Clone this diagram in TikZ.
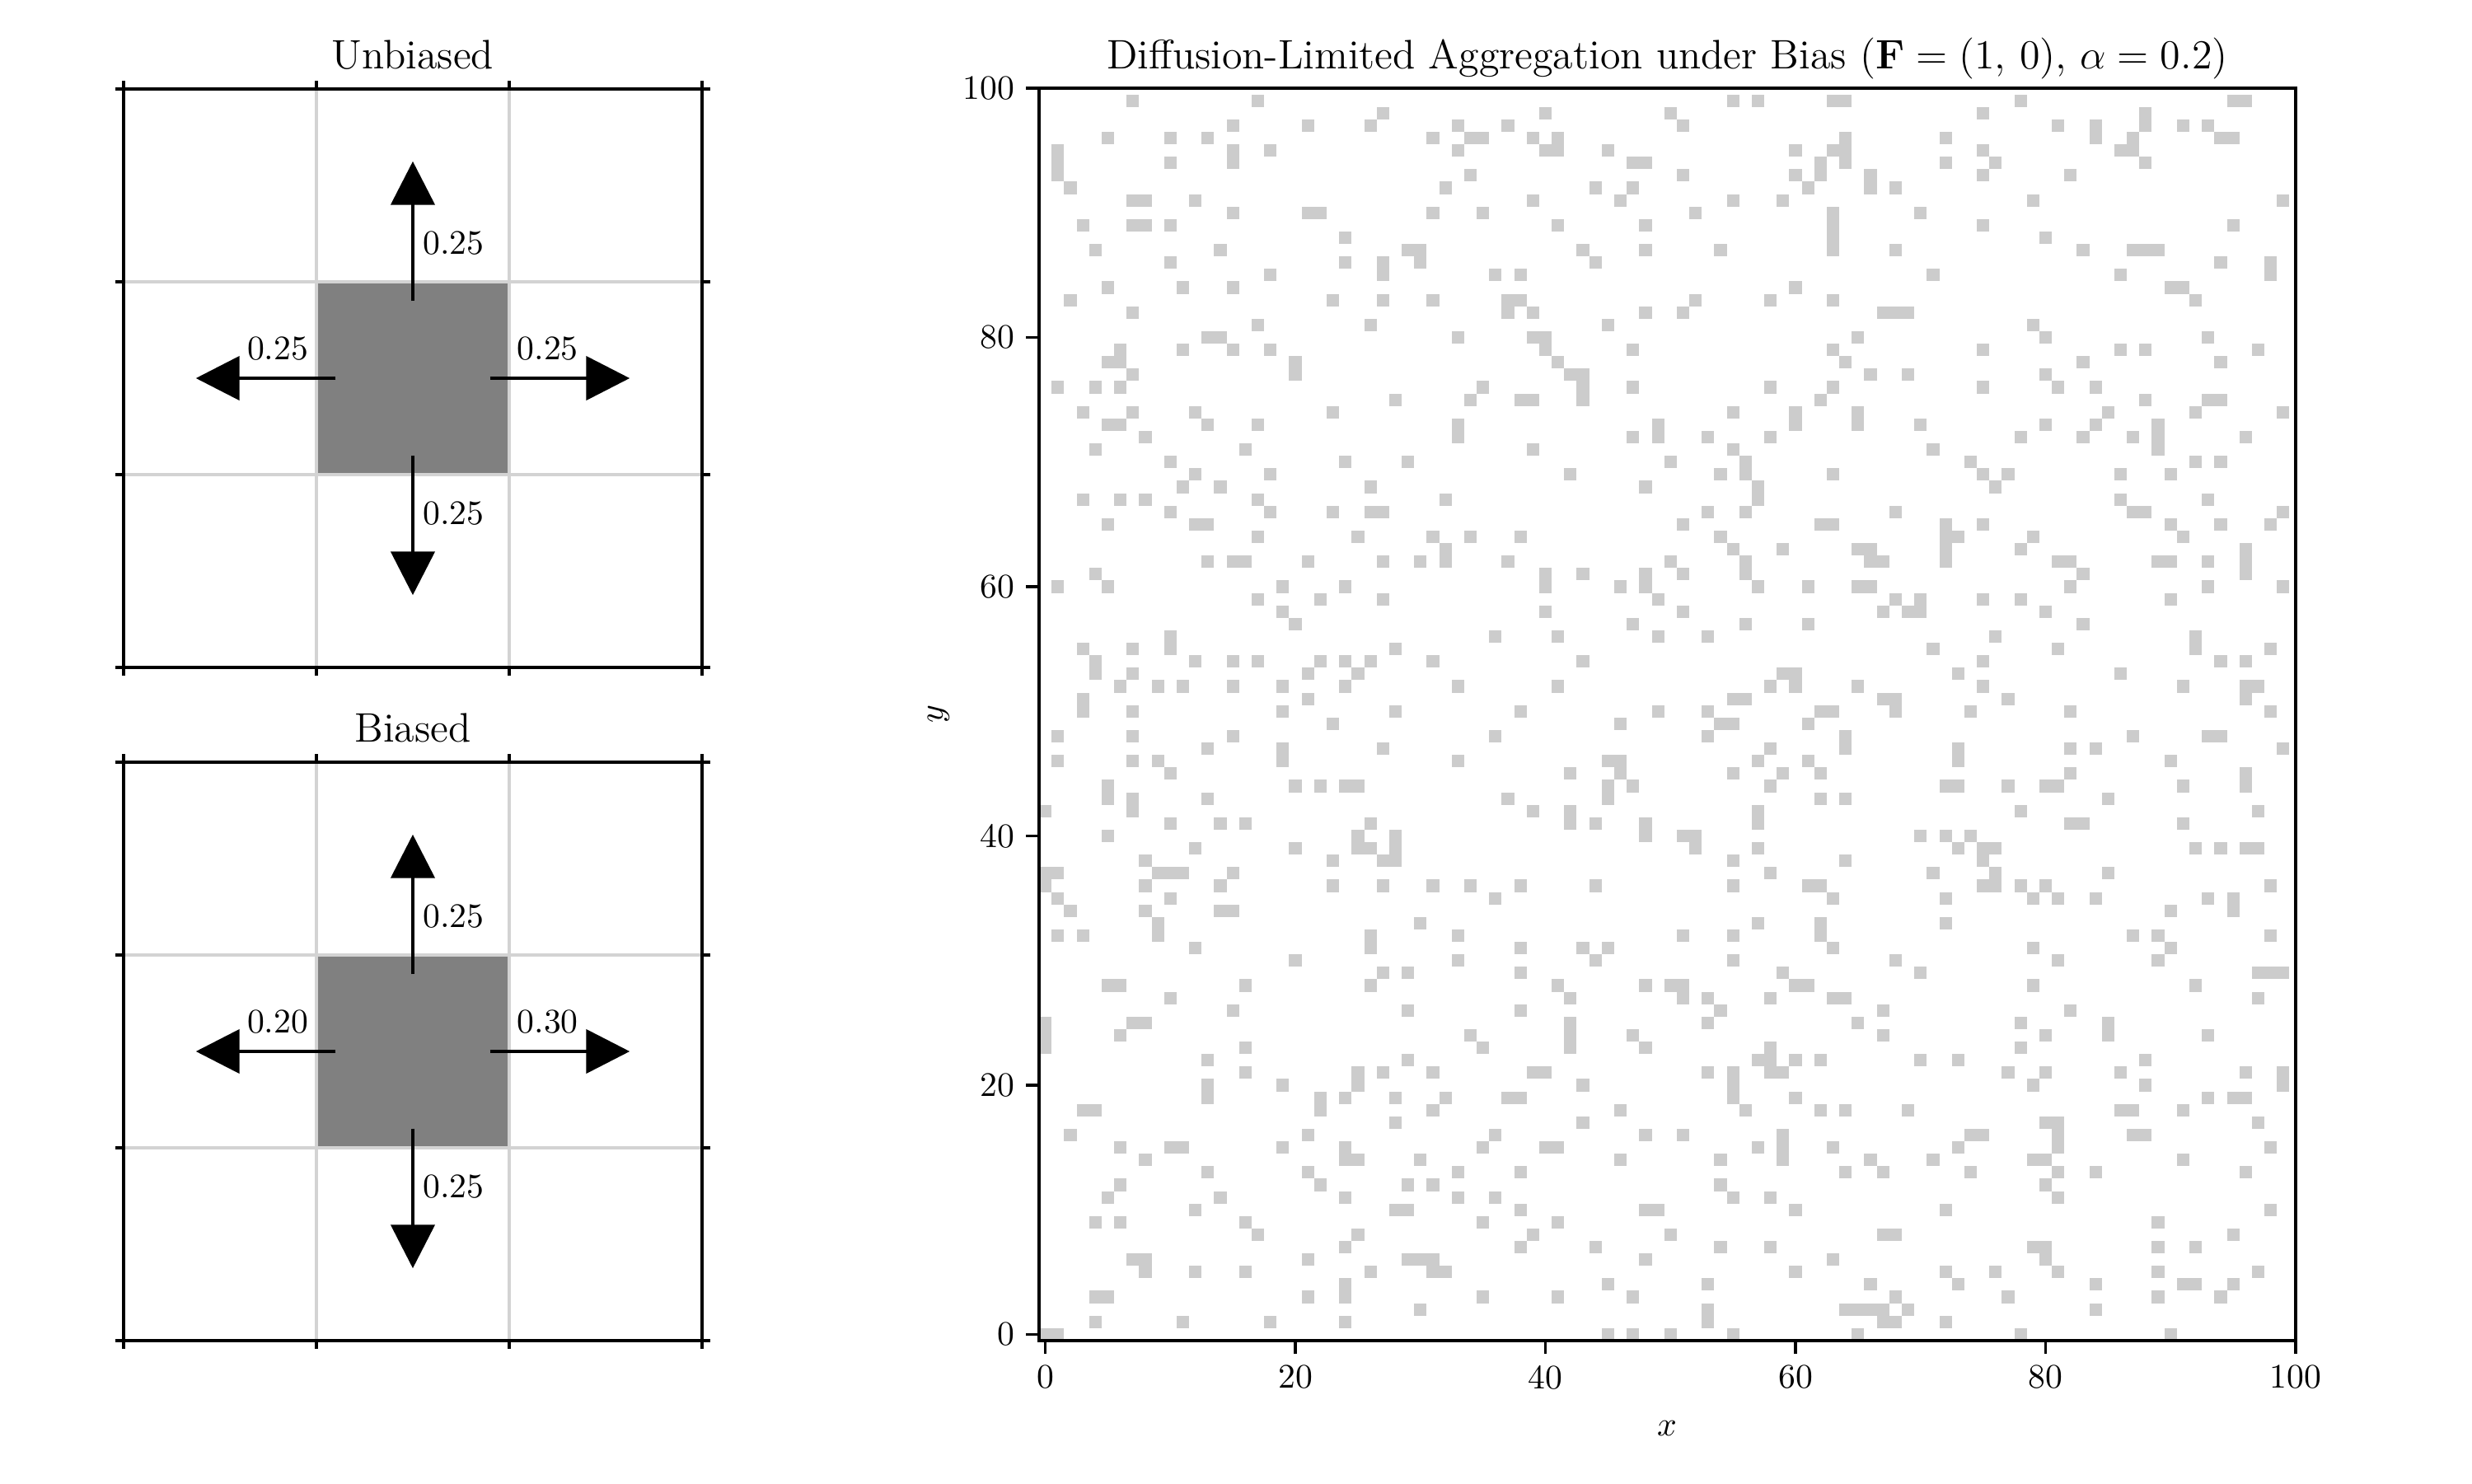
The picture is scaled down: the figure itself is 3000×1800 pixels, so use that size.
\documentclass[tikz,border=0pt]{standalone}
\usetikzlibrary{arrows.meta}
\definecolor{cellc}{HTML}{CCCCCC}
\definecolor{gridc}{HTML}{D3D3D3}
\definecolor{centerc}{HTML}{808080}
\begin{document}
\begin{tikzpicture}[x=0.24pt,y=-0.24pt,
  frame/.style={line width=0.8pt, line cap=rect},
  ticklab/.style={font=\fontsize{10}{12}\selectfont, inner sep=0pt},
  ttl/.style={font=\fontsize{12}{14}\selectfont, inner sep=0pt, anchor=base},
  problab/.style={font=\fontsize{10}{12}\selectfont, inner sep=0pt},
  arr/.style={line width=1.15pt, -{Triangle[length=12.7pt,width=12.7pt]}},
  gridln/.style={gridc, line width=0.8pt},
]
\useasboundingbox[fill=white] (0,0) rectangle (3000,1800);

% ---------- left panels ----------
\foreach \cy/\nm/\tt/\ll/\rl in {-110.16/U/Unbiased/0.25/0.25, -306.24/B/Biased/0.20/0.30}{
\begin{scope}[shift={(120.24pt,\cy pt)}, x=56.16pt, y=56.16pt]
  \fill[centerc] (-0.5,-0.5) rectangle (0.5,0.5);
  \draw[gridln] (-0.5,-1.5) -- (-0.5,1.5) (0.5,-1.5) -- (0.5,1.5)
                (-1.5,-0.5) -- (1.5,-0.5) (-1.5,0.5) -- (1.5,0.5);
  \draw[frame] (-1.5,-1.5) rectangle (1.5,1.5);
  \foreach \t in {-1.5,-0.5,0.5,1.5}{
    \draw[frame] (\t,-1.5) -- ++(0,-2pt);
    \draw[frame] (\t,1.5) -- ++(0,2pt);
    \draw[frame] (-1.5,\t) -- ++(-2pt,0);
    \draw[frame] (1.5,\t) -- ++(2pt,0);
  }
  \coordinate (us\nm) at (0,0.4);   \coordinate (ue\nm) at (0,1.125);
  \coordinate (ds\nm) at (0,-0.4);  \coordinate (de\nm) at (0,-1.125);
  \coordinate (ls\nm) at (-0.4,0);  \coordinate (le\nm) at (-1.125,0);
  \coordinate (rs\nm) at (0.4,0);   \coordinate (re\nm) at (1.125,0);
  \draw[arr] (us\nm) -- (ue\nm);
  \draw[arr] (ds\nm) -- (de\nm);
  \draw[arr] (ls\nm) -- (le\nm);
  \draw[arr] (rs\nm) -- (re\nm);
  \node[problab, anchor=west] (pu\nm) at (0.05,0.7) {0.25};
  \node[problab, anchor=west] (pd\nm) at (0.05,-0.7) {0.25};
  \node[problab, anchor=base] (pl\nm) at (-0.7,0.095) {\ll};
  \node[problab, anchor=base] (pr\nm) at (0.7,0.095) {\rl};
  \path (0,1.5) ++(0,6pt) node[ttl] (t\nm) {\tt};
\end{scope}
}

% ---------- right plot ----------
\begin{scope}[shift={(302.64pt,-390.48pt)}, x=3.6418pt, y=3.6299pt]
  \pgfmathsetseed{20240}
  \foreach \i in {0,...,99}{
    \foreach \j in {0,...,99}{
      \pgfmathrandominteger{\rv}{1}{1000}
      \ifnum\rv<91 \fill[cellc] (\i,\j) rectangle ++(1,1);\fi
    }
  }
  \draw[frame] (0,0) rectangle (100.5,100.5);
  \foreach \t in {0,20,...,100}{
    \draw[frame] (\t+0.5,0) -- ++(0,-3.5pt);
    \path (\t+0.5,0) ++(0,-7pt) node[ticklab, anchor=north] (xt\t) {\t};
    \draw[frame] (0,\t+0.5) -- ++(-3.5pt,0);
    \path (0,\t+0.5) ++(-7pt,0) node[ticklab, anchor=east] (yt\t) {\t};
  }
\end{scope}
\node[ticklab] (xl) at (2023,1733) {$x$};
\node[ticklab, rotate=90] (yl) at (1139,867) {$y$};
\node[ttl] (mt) at (2023.5,83) {Diffusion-Limited Aggregation under Bias ($\mathbf{F}=(1,\,0)$, $\alpha=0.2$)};
\end{tikzpicture}
\end{document}
